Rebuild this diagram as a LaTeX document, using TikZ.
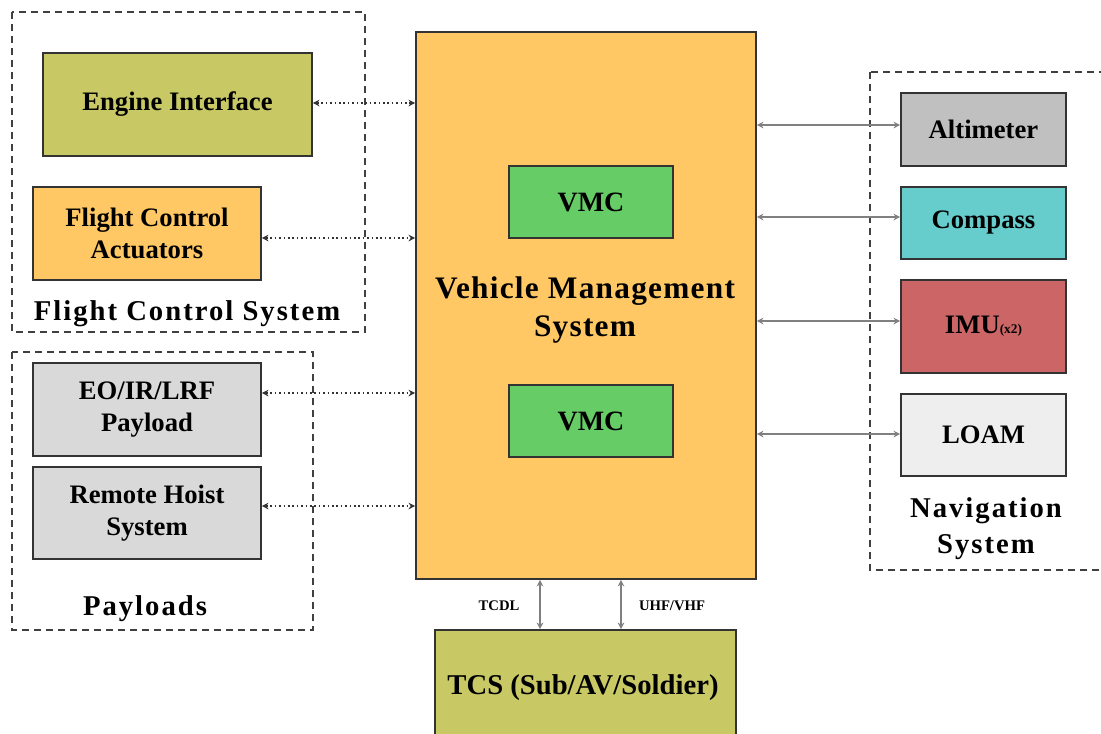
\documentclass[tikz,border=0pt]{standalone}
\usepackage{fontspec}
\setmainfont{Liberation Serif}
\usetikzlibrary{arrows.meta}
\definecolor{olive}{HTML}{C8C864}
\definecolor{amber}{HTML}{FFC864}
\definecolor{lgray}{HTML}{D9D9D9}
\definecolor{vgreen}{HTML}{66CC66}
\definecolor{altg}{HTML}{C0C0C0}
\definecolor{cyanb}{HTML}{66CCCC}
\definecolor{redb}{HTML}{CC6666}
\definecolor{loamg}{HTML}{EEEEEE}
\tikzset{
  blk/.style={draw=black!80, line width=1.2pt, font=\bfseries\fontsize{20}{24.5}\selectfont, align=center, inner sep=0pt},
  grp/.style={draw=black!75, line width=1pt, dash pattern=on 5pt off 4pt},
  grplbl/.style={font=\bfseries\fontsize{21.5}{27}\selectfont\addfontfeatures{LetterSpace=7}, align=center, inner sep=0pt},
  dotarr/.style={{Stealth[length=5pt,width=5pt]}-{Stealth[length=5pt,width=5pt]}, dotted, line width=1.3pt, black!80},
  solarr/.style={{Stealth[length=5pt,width=5pt]}-{Stealth[length=5pt,width=5pt]}, line width=1.1pt, gray},
  small/.style={font=\bfseries\fontsize{11}{12}\selectfont, inner sep=0pt}
}
\begin{document}
\begin{tikzpicture}[x=0.75pt, y=-0.75pt]
\useasboundingbox (0,0) rectangle (1101,733);
\clip (0,0) rectangle (1101,733);
% groups
\draw[grp] (12,12) rectangle (365,332);
\node[grplbl] (fcslbl) at (187,314) {Flight Control System};
\draw[grp] (12,352) rectangle (313,630);
\node[grplbl] (paylbl) at (145,609) {Payloads};
\draw[grp] (870,72) rectangle (1120,570);
\node[grplbl] (navlbl) at (986,529) {Navigation\\System};
% left blocks
\node[blk, fill=olive, minimum width=269*0.75pt, minimum height=103*0.75pt] (eng) at (177.5,104.5) {Engine Interface};
\node[blk, fill=amber, minimum width=228*0.75pt, minimum height=93*0.75pt] (fca) at (147,233.5) {Flight Control\\Actuators};
\node[blk, fill=lgray, minimum width=228*0.75pt, minimum height=93*0.75pt] (eo) at (147,409.5) {EO/IR/LRF\\Payload};
\node[blk, fill=lgray, minimum width=228*0.75pt, minimum height=92*0.75pt] (rhs) at (147,513) {Remote Hoist\\System};
% VMS
\node[draw=black!80, line width=1.2pt, fill=amber, minimum width=340*0.75pt, minimum height=547*0.75pt, inner sep=0pt] (vms) at (586,305.5) {};
\node[font=\bfseries\fontsize{23.5}{29}\selectfont\addfontfeatures{LetterSpace=4}, align=center, inner sep=0pt] (vmslbl) at (585,310) {Vehicle Management\\System};
\node[blk, fill=vgreen, minimum width=164*0.75pt, minimum height=72*0.75pt, font=\bfseries\fontsize{21}{24}\selectfont] (vmc1) at (591,202) {VMC};
\node[blk, fill=vgreen, minimum width=164*0.75pt, minimum height=72*0.75pt, font=\bfseries\fontsize{21}{24}\selectfont] (vmc2) at (591,421) {VMC};
% right blocks
\node[blk, fill=altg, minimum width=165*0.75pt, minimum height=73*0.75pt] (alt) at (983.5,129.5) {Altimeter};
\node[blk, fill=cyanb, minimum width=165*0.75pt, minimum height=72*0.75pt] (cmp) at (983.5,223) {Compass};
\node[blk, fill=redb, minimum width=165*0.75pt, minimum height=93*0.75pt] (imu) at (983.5,326.5) {IMU{\fontsize{10}{12}\selectfont(x2)}};
\node[blk, fill=loamg, minimum width=165*0.75pt, minimum height=82*0.75pt] (loam) at (983.5,435) {LOAM};
% TCS
\node[blk, fill=olive, minimum width=301*0.75pt, minimum height=120*0.75pt] (tcs) at (585.5,690) {};
\node[font=\bfseries\fontsize{21.5}{24}\selectfont, inner sep=0pt] (tcslbl) at (583,688) {TCS (Sub/AV/Soldier)};
% connectors left
\draw[dotarr] (eng.east |- 0,103) -- (vms.west |- 0,103);
\draw[dotarr] (fca.east |- 0,238) -- (vms.west |- 0,238);
\draw[dotarr] (eo.east |- 0,393) -- (vms.west |- 0,393);
\draw[dotarr] (rhs.east |- 0,506) -- (vms.west |- 0,506);
% connectors right
\draw[solarr] (vms.east |- 0,125) -- (alt.west |- 0,125);
\draw[solarr] (vms.east |- 0,217) -- (cmp.west |- 0,217);
\draw[solarr] (vms.east |- 0,321) -- (imu.west |- 0,321);
\draw[solarr] (vms.east |- 0,434) -- (loam.west |- 0,434);
% bottom
\draw[solarr] (vms.south -| 540,0) -- (tcs.north -| 540,0);
\draw[solarr] (vms.south -| 621,0) -- (tcs.north -| 621,0);
\node[small] (tcdl) at (499,606) {TCDL};
\node[small] (uhf) at (672,606) {UHF/VHF};
\end{tikzpicture}
\end{document}
